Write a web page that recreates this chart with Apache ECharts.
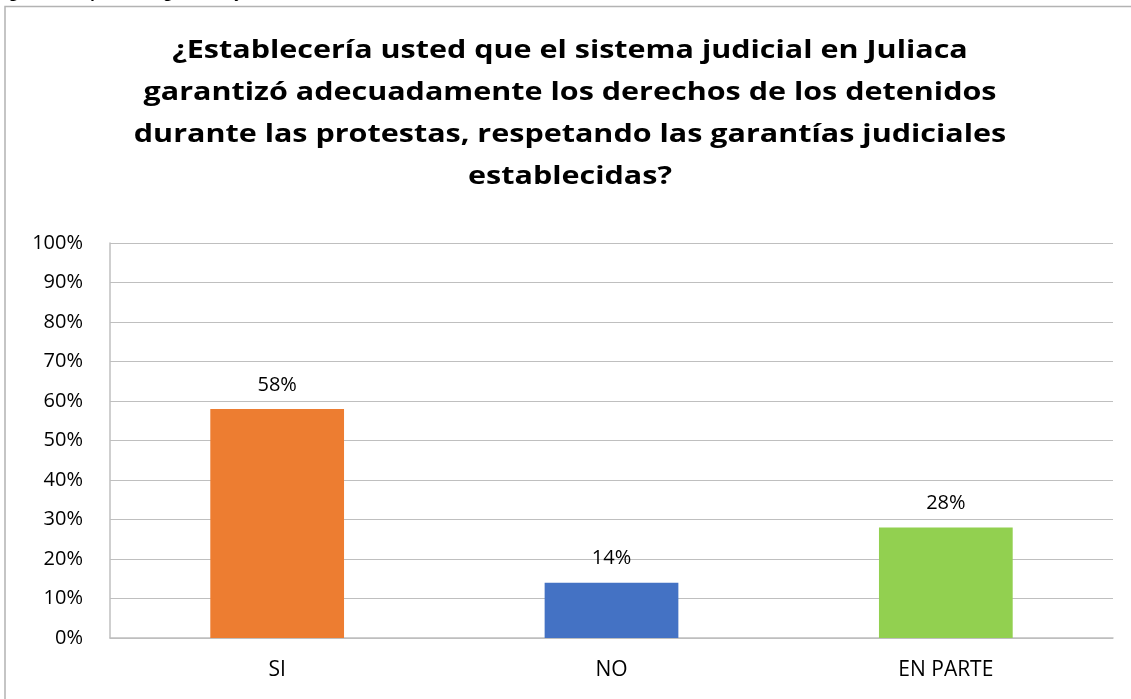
<!DOCTYPE html>
<html>
<head>
<meta charset="utf-8">
<script src="https://cdn.jsdelivr.net/npm/echarts@6/dist/echarts.min.js"></script>
<style>
  html, body { margin: 0; padding: 0; background: #fff; }
  #chart { width: 1131px; height: 699px; }
</style>
</head>
<body>
<div id="chart"></div>
<script>
const categories = ["SI", "NO", "EN PARTE"];
const values = [58, 14, 28];
const barColors = ["#ED7D31", "#4472C4", "#92D050"];
const titleLines = [
  "¿Establecería usted que el sistema judicial en Juliaca",
  "garantizó adecuadamente los derechos de los detenidos",
  "durante las protestas, respetando las garantías judiciales",
  "establecidas?"
];
const captionText = "Figura 11 Respeto a las garantías judiciales establecidas";

const font = "'Open Sans', 'Noto Sans', sans-serif";

// title drawn as graphic text so it can be stretched a little like the original
const titleTexts = titleLines.map((line, i) => ({
  type: "text",
  x: 570,
  y: 38 + i * 42,
  scaleX: 1.22,
  style: {
    text: line,
    x: 0,
    y: 0,
    textAlign: "center",
    font: "bold 25px " + font,
    fill: "#000"
  }
}));

const chart = echarts.init(document.getElementById("chart"));
chart.setOption({
  animation: false,
  graphic: [
    {
      type: "rect",
      shape: { x: 5, y: 6.5, width: 1140, height: 720 },
      style: { fill: "none", stroke: "#b3b3b3", lineWidth: 1.5 },
      z: -1
    },
    {
      // caption of the page, cut off by the top edge
      type: "text",
      x: -2,
      y: -13.5,
      style: {
        text: captionText,
        x: 0,
        y: 0,
        font: "italic bold 15px " + font,
        fill: "#000"
      }
    },
    ...titleTexts
  ],
  grid: { left: 110, right: 18, top: 243, bottom: 61 },
  xAxis: {
    type: "category",
    data: categories,
    axisTick: { show: false },
    axisLine: { lineStyle: { color: "#bfbfbf", width: 1.5 } },
    axisLabel: { fontFamily: font, fontSize: 21, color: "#000", margin: 22 }
  },
  yAxis: {
    type: "value",
    min: 0,
    max: 100,
    interval: 10,
    axisLine: { show: true, lineStyle: { color: "#bfbfbf", width: 1.5 } },
    splitLine: { lineStyle: { color: "#bfbfbf", width: 1.2 } },
    axisLabel: {
      fontFamily: font,
      fontSize: 20,
      color: "#000",
      margin: 27,
      formatter: "{value}%"
    }
  },
  series: [
    {
      type: "bar",
      barWidth: "40%",
      data: values.map((v, i) => ({ value: v, itemStyle: { color: barColors[i] } })),
      label: {
        show: true,
        position: "top",
        distance: 14,
        fontFamily: font,
        fontSize: 20,
        color: "#000",
        formatter: "{c}%"
      }
    }
  ]
});
</script>
</body>
</html>
